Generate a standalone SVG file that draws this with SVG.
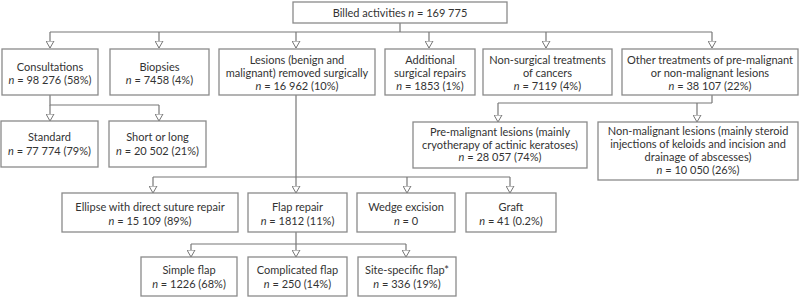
<svg xmlns="http://www.w3.org/2000/svg" width="800" height="297" viewBox="0 0 800 297">
<style>
.b{fill:#fff;stroke:#8a8a8a;stroke-width:1.3}
.t{font-family:Lato,"Open Sans","Liberation Sans",sans-serif;font-size:11px;fill:#333;text-anchor:middle}
.c{fill:none;stroke:#777;stroke-width:1.2}
</style>
<defs>
<marker id="a" markerUnits="userSpaceOnUse" viewBox="0 0 8 9" refX="7.5" refY="4.5" markerWidth="8" markerHeight="9" orient="auto">
<path d="M0.5,0.5 L7.5,4.5 L0.5,8.5 Z" fill="#fff" stroke="#777" stroke-width="1"/>
</marker>
</defs>
<rect width="800" height="297" fill="#fff"/>
<g id="connectors" class="c">
<path d="M400,23 V32 M50,32 H712"/>
<path d="M50,32 V48" marker-end="url(#a)"/>
<path d="M159,32 V48" marker-end="url(#a)"/>
<path d="M296,32 V48" marker-end="url(#a)"/>
<path d="M429,32 V48" marker-end="url(#a)"/>
<path d="M546,32 V48" marker-end="url(#a)"/>
<path d="M712,32 V48" marker-end="url(#a)"/>
<path d="M50,95 V105 H159"/>
<path d="M50,105 V121" marker-end="url(#a)"/>
<path d="M159,105 V121" marker-end="url(#a)"/>
<path d="M712,95 V103 M498,103 H712"/>
<path d="M498,103 V122" marker-end="url(#a)"/>
<path d="M697,103 V122" marker-end="url(#a)"/>
<path d="M296,95 V177 M153,177 H510"/>
<path d="M153,177 V193" marker-end="url(#a)"/>
<path d="M296,177 V193" marker-end="url(#a)"/>
<path d="M407,177 V193" marker-end="url(#a)"/>
<path d="M510,177 V193" marker-end="url(#a)"/>
<path d="M296,232 V244 M191,244 H406"/>
<path d="M191,244 V257" marker-end="url(#a)"/>
<path d="M296,244 V257" marker-end="url(#a)"/>
<path d="M406,244 V257" marker-end="url(#a)"/>
</g>
<g id="billed"><rect class="b" x="293" y="2" width="214" height="21"/><text class="t" x="400" y="16.5">Billed activities <tspan font-style="italic">n</tspan> = 169 775</text></g>
<g id="consultations"><rect class="b" x="2" y="49" width="96" height="46"/><text class="t" x="50" y="71">Consultations</text><text class="t" x="50" y="84"><tspan font-style="italic">n</tspan> = 98 276 (58%)</text></g>
<g id="biopsies"><rect class="b" x="110" y="49" width="99" height="46"/><text class="t" x="159.5" y="71">Biopsies</text><text class="t" x="159.5" y="84"><tspan font-style="italic">n</tspan> = 7458 (4%)</text></g>
<g id="lesions"><rect class="b" x="219" y="49" width="156" height="46"/><text class="t" x="297" y="64">Lesions (benign and</text><text class="t" x="297" y="77">malignant) removed surgically</text><text class="t" x="297" y="90"><tspan font-style="italic">n</tspan> = 16 962 (10%)</text></g>
<g id="additional"><rect class="b" x="385" y="49" width="90" height="46"/><text class="t" x="430" y="64">Additional</text><text class="t" x="430" y="77">surgical repairs</text><text class="t" x="430" y="90"><tspan font-style="italic">n</tspan> = 1853 (1%)</text></g>
<g id="nonsurgical"><rect class="b" x="483" y="49" width="129" height="46"/><text class="t" x="547.5" y="64">Non-surgical treatments</text><text class="t" x="547.5" y="77">of cancers</text><text class="t" x="547.5" y="90"><tspan font-style="italic">n</tspan> = 7119 (4%)</text></g>
<g id="other"><rect class="b" x="622" y="49" width="176" height="46"/><text class="t" x="710" y="64">Other treatments of pre-malignant</text><text class="t" x="710" y="77">or non-malignant lesions</text><text class="t" x="710" y="90"><tspan font-style="italic">n</tspan> = 38 107 (22%)</text></g>
<g id="standard"><rect class="b" x="1" y="121" width="97" height="46"/><text class="t" x="49.5" y="141">Standard</text><text class="t" x="49.5" y="155"><tspan font-style="italic">n</tspan> = 77 774 (79%)</text></g>
<g id="shortlong"><rect class="b" x="109" y="121" width="97" height="46"/><text class="t" x="157.5" y="141">Short or long</text><text class="t" x="157.5" y="155"><tspan font-style="italic">n</tspan> = 20 502 (21%)</text></g>
<g id="premalignant"><rect class="b" x="413" y="122" width="174" height="46"/><text class="t" x="500" y="136">Pre-malignant lesions (mainly</text><text class="t" x="500" y="149">cryotherapy of actinic keratoses)</text><text class="t" x="500" y="161"><tspan font-style="italic">n</tspan> = 28 057 (74%)</text></g>
<g id="nonmalignant"><rect class="b" x="598" y="122" width="200" height="58"/><text class="t" x="698" y="135">Non-malignant lesions (mainly steroid</text><text class="t" x="698" y="148">injections of keloids and incision and</text><text class="t" x="698" y="161">drainage of abscesses)</text><text class="t" x="698" y="174"><tspan font-style="italic">n</tspan> = 10 050 (26%)</text></g>
<g id="ellipse"><rect class="b" x="62" y="193" width="176" height="39"/><text class="t" x="150" y="211">Ellipse with direct suture repair</text><text class="t" x="150" y="225"><tspan font-style="italic">n</tspan> = 15 109 (89%)</text></g>
<g id="flap"><rect class="b" x="248" y="193" width="99" height="39"/><text class="t" x="297.5" y="211">Flap repair</text><text class="t" x="297.5" y="225"><tspan font-style="italic">n</tspan> = 1812 (11%)</text></g>
<g id="wedge"><rect class="b" x="357" y="193" width="98" height="39"/><text class="t" x="406" y="211">Wedge excision</text><text class="t" x="406" y="225"><tspan font-style="italic">n</tspan> = 0</text></g>
<g id="graft"><rect class="b" x="466" y="193" width="90" height="39"/><text class="t" x="511" y="211">Graft</text><text class="t" x="511" y="225"><tspan font-style="italic">n</tspan> = 41 (0.2%)</text></g>
<g id="simple"><rect class="b" x="141" y="257" width="96" height="39"/><text class="t" x="189" y="274">Simple flap</text><text class="t" x="189" y="288"><tspan font-style="italic">n</tspan> = 1226 (68%)</text></g>
<g id="complicated"><rect class="b" x="248" y="257" width="99" height="39"/><text class="t" x="297.5" y="274">Complicated flap</text><text class="t" x="297.5" y="288"><tspan font-style="italic">n</tspan> = 250 (14%)</text></g>
<g id="sitespecific"><rect class="b" x="358" y="257" width="98" height="39"/><text class="t" x="407" y="274">Site-specific flap*</text><text class="t" x="407" y="288"><tspan font-style="italic">n</tspan> = 336 (19%)</text></g>
</svg>
